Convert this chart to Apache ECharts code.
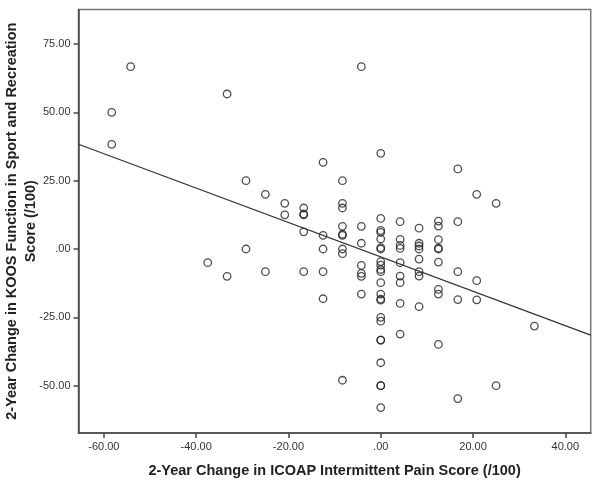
<!DOCTYPE html>
<html>
<head>
<meta charset="utf-8">
<script src="https://cdn.jsdelivr.net/npm/echarts@6/dist/echarts.min.js"></script>
<style>
  html, body { margin: 0; padding: 0; background: #fff; }
  #chart { width: 601px; height: 484px; }
</style>
</head>
<body>
<div id="chart"></div>
<script>
// ICOAP change (x) per participant, KOOS sport/rec change (y)
var icoapChange = [
  -58.3, -58.3, -54.2, -37.5, -33.3, -33.3, -29.2, -29.2, -25, -25,
  -20.8, -20.8, -16.7, -16.7, -16.7, -16.7, -16.7,
  -12.5, -12.5, -12.5, -12.5, -12.5,
  -8.3, -8.3, -8.3, -8.3, -8.3, -8.3, -8.3, -8.3, -8.3,
  -4.2, -4.2, -4.2, -4.2, -4.2, -4.2, -4.2,
  0, 0, 0, 0, 0, 0, 0, 0, 0, 0, 0, 0, 0, 0, 0, 0, 0, 0, 0, 0, 0, 0, 0,
  4.2, 4.2, 4.2, 4.2, 4.2, 4.2, 4.2, 4.2, 4.2,
  8.3, 8.3, 8.3, 8.3, 8.3, 8.3, 8.3, 8.3,
  12.5, 12.5, 12.5, 12.5, 12.5, 12.5, 12.5, 12.5, 12.5,
  16.7, 16.7, 16.7, 16.7, 16.7,
  20.8, 20.8, 20.8,
  25, 25,
  33.3
];
var koosChange = [
  50, 38.3, 66.7, -5, 56.7, -10, 25, 0, 20, -8.3,
  16.7, 12.5, 15, 12.5, 12.8, 6.3, -8.3,
  31.7, 5, 0, -8.3, -18.2,
  25, 16.7, 15, 8.3, 5, 5.4, 0, -1.7, -48,
  66.7, 8.3, 2.1, -6, -8.9, -10, -16.5,
  35, 11.2, 6.8, 6.1, 3.7, 0.5, 0, -4.6, -5.9, -7.5, -8.3, -12.3, -16.5, -18.3, -18.7, -25, -26.4, -33.3, -33.3, -41.6, -50, -50, -58,
  10, 3.5, 1.3, 0.2, -5, -9.9, -12.3, -19.9, -31.1,
  7.6, 2.1, 1.1, 0, -3.7, -8.3, -9.9, -21.1,
  10.2, 8.4, 3.4, 0, 0.3, -4.8, -14.8, -16.5, -34.9,
  29.3, 10, -8.3, -18.5, -54.7,
  20, -11.6, -18.6,
  16.7, -50,
  -28.2
];

// linear fit line
var fitIntercept = -2.9;
var fitSlope = -0.629;

var xMin = -65.5, xMax = 45.5;
var yMin = -67.3, yMax = 87.6;

var xTicks = [-60, -40, -20, 0, 20, 40];
var yTicks = [-50, -25, 0, 25, 50, 75];

var fmt = function(v) {
  var s = v.toFixed(2);
  if (s === '0.00' || s === '-0.00') return '.00';
  return s;
};

var points = icoapChange.map(function(x, i) { return [x, koosChange[i]]; });
var fitLine = [xMin, xMax].map(function(x) { return [x, fitIntercept + fitSlope * x]; });

var chartDom = document.getElementById('chart');
var myChart = echarts.init(chartDom, null, { renderer: 'canvas' });
var option;

option = {
  animation: false,
  backgroundColor: '#fff',
  grid: {
    left: 78.5, top: 9.5, right: 10.3, bottom: 51,
    containLabel: false,
    outerBoundsMode: 'none',
    show: true, borderColor: '#777', borderWidth: 1.5, backgroundColor: '#fff'
  },
  xAxis: {
    type: 'value',
    min: xMin, max: xMax,
    interval: 20,
    splitLine: { show: false },
    axisLine: { onZero: false, lineStyle: { color: '#444', width: 1.5 } },
    axisTick: {
      length: 5, lineStyle: { color: '#444', width: 1.5 },
      customValues: xTicks
    },
    axisLabel: {
      customValues: xTicks,
      formatter: fmt, color: '#333', fontSize: 11,
      fontFamily: 'Liberation Sans, Arial, sans-serif', margin: 8
    },
    name: '2-Year Change in ICOAP Intermittent Pain Score (/100)',
    nameLocation: 'middle',
    nameGap: 30,
    nameMoveOverlap: false,
    nameTextStyle: {
      fontSize: 14.5, fontWeight: 'bold', color: '#222',
      fontFamily: 'Liberation Sans, Arial, sans-serif'
    }
  },
  yAxis: {
    type: 'value',
    min: yMin, max: yMax,
    interval: 25,
    splitLine: { show: false },
    axisLine: { onZero: false, lineStyle: { color: '#444', width: 1.5 } },
    axisTick: {
      length: 5, lineStyle: { color: '#444', width: 1.5 },
      customValues: yTicks
    },
    axisLabel: {
      customValues: yTicks,
      formatter: fmt, color: '#333', fontSize: 11,
      fontFamily: 'Liberation Sans, Arial, sans-serif', margin: 8
    },
    name: '2-Year Change in KOOS Function in Sport and Recreation\nScore (/100)',
    nameLocation: 'middle',
    nameGap: 38,
    nameMoveOverlap: false,
    nameTextStyle: {
      fontSize: 14.5, fontWeight: 'bold', color: '#222', lineHeight: 19,
      fontFamily: 'Liberation Sans, Arial, sans-serif'
    }
  },
  series: [
    {
      type: 'scatter',
      data: points,
      symbol: 'circle',
      symbolSize: 7.5,
      itemStyle: { color: 'rgba(255,255,255,0)', borderColor: '#222', borderWidth: 1.3 }
    },
    {
      type: 'line',
      data: fitLine,
      symbol: 'none',
      lineStyle: { color: '#333', width: 1.2 }
    }
  ]
};

option && myChart.setOption(option);
</script>
</body>
</html>
